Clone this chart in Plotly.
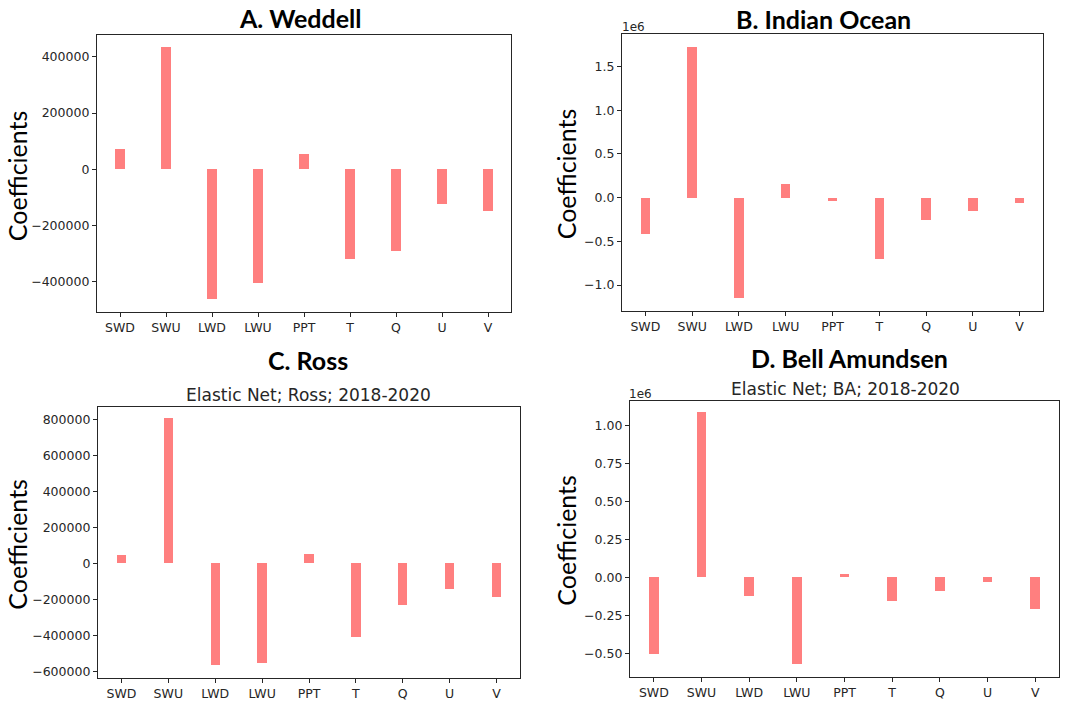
import plotly.graph_objects as go
from plotly.subplots import make_subplots

W, H = 1081, 701

variables = ["SWD", "SWU", "LWD", "LWU", "PPT", "T", "Q", "U", "V"]

weddell = [74000, 434000, -460000, -404000, 54000, -318000, -290000, -124000, -146000]
indian_ocean = [-0.41e6, 1.73e6, -1.148e6, 0.163e6, -0.034e6, -0.70e6, -0.255e6, -0.153e6, -0.065e6]
ross = [46000, 806000, -565000, -556000, 51000, -410000, -234000, -146000, -185000]
bell_amundsen = [-0.506e6, 1.083e6, -0.122e6, -0.572e6, 0.02e6, -0.157e6, -0.094e6, -0.035e6, -0.207e6]

panel_titles = ["A. Weddell", "B. Indian Ocean", "C. Ross", "D. Bell Amundsen"]
subtitles = [None, None, "Elastic Net; Ross; 2018-2020", "Elastic Net; BA; 2018-2020"]

ticks_a = [-400000, -200000, 0, 200000, 400000]
ticks_b = [-1.0, -0.5, 0.0, 0.5, 1.0, 1.5]
ticks_c = [-600000, -400000, -200000, 0, 200000, 400000, 600000, 800000]
ticks_d = [-0.50, -0.25, 0.00, 0.25, 0.50, 0.75, 1.00]

ranges = [(-506000, 478000), (-1.293e6, 1.873e6), (-637000, 868000), (-0.655e6, 1.157e6)]

BAR = "#ff7f7f"
AXC = "#262626"
TICKFONT = dict(family="DejaVu Sans", size=12.5, color="#262626")

fig = make_subplots(rows=2, cols=2)

series = [weddell, indian_ocean, ross, bell_amundsen]
pos = [(1, 1), (1, 2), (2, 1), (2, 2)]
for vals, (r, c) in zip(series, pos):
    fig.add_trace(go.Bar(x=list(range(len(variables))), y=vals, width=0.2,
                         marker=dict(color=BAR, line=dict(width=0)),
                         showlegend=False), row=r, col=c)

# pixel boxes (left, right, top, bottom)
boxes = [(97, 511, 35, 313), (622, 1043, 34, 312), (98, 520, 409, 681), (630, 1059, 403, 680)]

def fmt_int(v):
    s = str(int(v))
    return s.replace("-", "\u2212")

def fmt_dec(v, nd):
    s = f"{v:.{nd}f}"
    return s.replace("-", "\u2212")

tickvals_list = [
    ticks_a,
    [t * 1e6 for t in ticks_b],
    ticks_c,
    [t * 1e6 for t in ticks_d],
]
ticktext_list = [
    [fmt_int(t) for t in ticks_a],
    [fmt_dec(t, 1) for t in ticks_b],
    [fmt_int(t) for t in ticks_c],
    [fmt_dec(t, 2) for t in ticks_d],
]

for i, (l, r, t, b) in enumerate(boxes):
    xa = "xaxis" if i == 0 else f"xaxis{i+1}"
    ya = "yaxis" if i == 0 else f"yaxis{i+1}"
    fig.layout[xa].update(
        domain=[l / W, r / W], range=[-0.5, 8.5],
        tickvals=list(range(len(variables))), ticktext=variables,
        showline=True, linecolor=AXC, linewidth=1.2, mirror=True,
        ticks="outside", ticklen=4, tickcolor=AXC, tickwidth=1,
        showgrid=False, zeroline=False, tickfont=TICKFONT,
    )
    fig.layout[ya].update(
        domain=[1 - b / H, 1 - t / H], range=list(ranges[i]),
        tickvals=tickvals_list[i], ticktext=ticktext_list[i],
        showline=True, linecolor=AXC, linewidth=1.2, mirror=True,
        ticks="outside", ticklen=4, tickcolor=AXC, tickwidth=1,
        showgrid=False, zeroline=False, tickfont=TICKFONT,
    )

annotations = []
title_pos = [(300, 18), (823, 19), (308, 362), (849, 360)]
for (x, y), txt in zip(title_pos, panel_titles):
    annotations.append(dict(x=x / W, y=1 - y / H, xref="paper", yref="paper",
                            text=f"<b>{txt}</b>", showarrow=False,
                            xanchor="center", yanchor="middle",
                            font=dict(family="Lato", size=25, color="black")))
sub_pos = [None, None, (308, 397), (845, 391)]
for p, txt in zip(sub_pos, subtitles):
    if txt:
        annotations.append(dict(x=p[0] / W, y=1 - p[1] / H, xref="paper", yref="paper",
                                text=txt, showarrow=False, xanchor="center", yanchor="middle",
                                font=dict(family="DejaVu Sans", size=17, color="#262626")))
ylab_pos = [(17, 177), (566, 175), (17, 547), (566, 543)]
for x, y in ylab_pos:
    annotations.append(dict(x=x / W, y=1 - y / H, xref="paper", yref="paper",
                            text="Coefficients", showarrow=False, textangle=-90,
                            xanchor="center", yanchor="middle",
                            font=dict(family="Lato", size=25, color="black")))
for x, y in [(633, 27), (640, 396)]:
    annotations.append(dict(x=x / W, y=1 - y / H, xref="paper", yref="paper",
                            text="1e6", showarrow=False, xanchor="center", yanchor="middle",
                            font=dict(family="DejaVu Sans", size=12, color="#262626")))

fig.update_layout(
    width=W, height=H, margin=dict(l=0, r=0, t=0, b=0),
    paper_bgcolor="white", plot_bgcolor="white",
    annotations=annotations, bargap=0,
)

fig.write_html("out.html")
